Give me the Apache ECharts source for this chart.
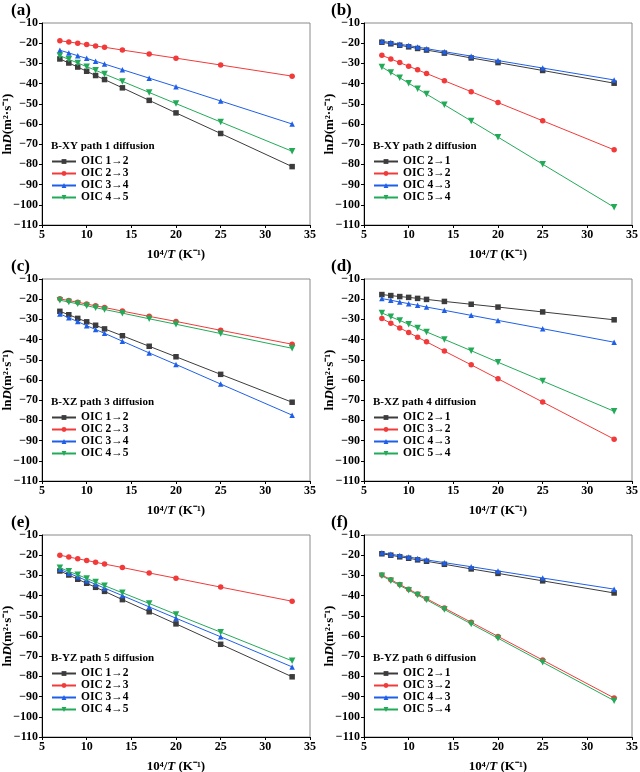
<!DOCTYPE html>
<html>
<head>
<meta charset="utf-8">
<script src="https://cdn.jsdelivr.net/npm/echarts@6/dist/echarts.min.js"></script>
<style>
  html, body { margin: 0; padding: 0; background: #fff; }
  #chart { width: 640px; height: 772px; }
</style>
</head>
<body>
<div id="chart"></div>
<script>
// 10^4/T 横坐标
var invT = [7, 8, 9, 10, 11, 12, 14, 17, 20, 25, 33];

// (a) B-XY path 1
var a12 = [-27.8, -29.8, -31.8, -33.9, -36.0, -38.0, -42.1, -48.3, -54.5, -64.7, -81.1];
var a23 = [-18.8, -19.4, -20.0, -20.7, -21.4, -22.0, -23.4, -25.4, -27.4, -30.8, -36.3];
var a34 = [-23.5, -24.8, -26.2, -27.5, -28.9, -30.3, -33.1, -37.3, -41.5, -48.6, -60.0];
var a45 = [-26.2, -28.0, -29.8, -31.6, -33.4, -35.3, -38.9, -44.4, -49.9, -59.0, -73.5];
// (b) B-XY path 2
var b21 = [-19.5, -20.3, -21.0, -21.8, -22.6, -23.4, -24.9, -27.3, -29.6, -33.5, -39.8];
var b32 = [-26.0, -27.8, -29.6, -31.4, -33.2, -35.0, -38.6, -44.0, -49.4, -58.4, -72.8];
var b43 = [-19.0, -19.7, -20.5, -21.2, -21.9, -22.7, -24.2, -26.4, -28.6, -32.3, -38.2];
var b54 = [-31.8, -34.5, -37.1, -39.8, -42.5, -45.2, -50.5, -58.5, -66.5, -79.9, -101.2];
// (c) B-XZ path 3
var c12 = [-26.0, -27.7, -29.5, -31.2, -32.9, -34.7, -38.1, -43.3, -48.5, -57.2, -71.0];
var c23 = [-19.8, -20.7, -21.5, -22.4, -23.3, -24.1, -25.9, -28.5, -31.0, -35.4, -42.3];
var c34 = [-27.3, -29.2, -31.1, -33.1, -35.0, -36.9, -40.8, -46.6, -52.3, -62.0, -77.4];
var c45 = [-20.5, -21.4, -22.3, -23.2, -24.2, -25.1, -26.9, -29.7, -32.4, -37.0, -44.3];
// (d) B-XZ path 4
var d21 = [-17.7, -18.2, -18.7, -19.1, -19.6, -20.1, -21.1, -22.5, -23.9, -26.3, -30.2];
var d32 = [-29.6, -31.9, -34.2, -36.5, -38.8, -41.1, -45.7, -52.5, -59.4, -70.9, -89.3];
var d43 = [-19.7, -20.5, -21.4, -22.2, -23.0, -23.9, -25.5, -28.0, -30.5, -34.6, -41.3];
var d54 = [-26.8, -28.7, -30.5, -32.4, -34.3, -36.2, -39.9, -45.5, -51.2, -60.5, -75.5];
// (e) B-YZ path 5
var e12 = [-27.8, -29.8, -31.9, -33.9, -35.9, -37.9, -42.0, -48.0, -54.0, -64.1, -80.2];
var e23 = [-20.0, -20.9, -21.8, -22.6, -23.5, -24.4, -26.1, -28.8, -31.4, -35.8, -42.8];
var e34 = [-27.0, -28.9, -30.7, -32.6, -34.4, -36.3, -40.0, -45.6, -51.2, -60.4, -75.3];
var e45 = [-26.2, -28.0, -29.7, -31.5, -33.3, -35.1, -38.6, -43.9, -49.3, -58.1, -72.3];
// (f) B-YZ path 6
var f21 = [-19.3, -20.0, -20.8, -21.5, -22.3, -23.0, -24.5, -26.8, -29.0, -32.7, -38.7];
var f32 = [-29.8, -32.1, -34.5, -36.8, -39.2, -41.5, -46.2, -53.2, -60.2, -71.9, -90.7];
var f43 = [-18.8, -19.5, -20.2, -20.9, -21.6, -22.3, -23.7, -25.7, -27.8, -31.3, -36.8];
var f54 = [-30.2, -32.6, -35.0, -37.3, -39.7, -42.1, -46.9, -54.0, -61.1, -73.0, -92.0];

var panelLabels = ["(a)", "(b)", "(c)", "(d)", "(e)", "(f)"];
var legendTitles = [
  "B-XY path 1 diffusion", "B-XY path 2 diffusion",
  "B-XZ path 3 diffusion", "B-XZ path 4 diffusion",
  "B-YZ path 5 diffusion", "B-YZ path 6 diffusion"
];
var fwdNames = ["OIC 1\u21922", "OIC 2\u21923", "OIC 3\u21924", "OIC 4\u21925"];
var revNames = ["OIC 2\u21921", "OIC 3\u21922", "OIC 4\u21923", "OIC 5\u21924"];
var panelData = [
  [a12, a23, a34, a45],
  [b21, b32, b43, b54],
  [c12, c23, c34, c45],
  [d21, d32, d43, d54],
  [e12, e23, e34, e45],
  [f21, f32, f43, f54]
];

var colors = ["#3c3c3c", "#f23a3a", "#1f5fe8", "#23aa58"];
var symbols = ["rect", "circle", "triangle", "path://M0,0 L10,0 L5,9 Z"];
var FONT = "Liberation Serif";

function minusFmt(v) {
  return String(v).replace("-", "\u2212");
}

function buildOption() {
  var grids = [], xAxes = [], yAxes = [], series = [], legends = [], titles = [];
  var richName = {
    n: { fontFamily: FONT, fontWeight: "bold", fontSize: 13, color: "#000" },
    i: { fontFamily: FONT, fontWeight: "bold", fontStyle: "italic", fontSize: 13, color: "#000" }
  };

  for (var p = 0; p < 6; p++) {
    var col = p % 2, row = Math.floor(p / 2);
    var gLeft = col === 0 ? 42 : 364;
    var gTop = [23, 279, 535][row];
    var rowOff = [0, 256, 512][row];
    var names = col === 0 ? fwdNames : revNames;

    grids.push({
      left: gLeft, top: gTop, width: 268, height: 202,
      outerBoundsMode: "none", containLabel: false,
      show: true, borderColor: "#8a8a8a", borderWidth: 1
    });

    xAxes.push({
      gridIndex: p, type: "value", min: 5, max: 35, interval: 5,
      name: "{n|10\u2074/}{i|T}{n| (K\u207B\u00B9)}",
      nameLocation: "middle", nameGap: 23, nameMoveOverlap: false,
      nameTextStyle: { rich: richName },
      axisLine: { lineStyle: { color: "#000", width: 1 } },
      axisTick: { inside: false, length: 3, lineStyle: { color: "#000" } },
      axisLabel: { fontFamily: FONT, fontWeight: "bold", fontSize: 12, color: "#000", margin: 4 },
      splitLine: { show: false }
    });

    yAxes.push({
      gridIndex: p, type: "value", min: -110, max: -10, interval: 10,
      name: "{n|ln}{i|D}{n|(m\u00B2\u00B7s\u207B\u00B9)}",
      nameLocation: "middle", nameGap: 28, nameRotate: 90, nameMoveOverlap: false,
      nameTextStyle: { rich: richName },
      axisLine: { show: true, lineStyle: { color: "#000", width: 1 } },
      axisTick: { show: true, inside: false, length: 3, lineStyle: { color: "#000" } },
      axisLabel: {
        fontFamily: FONT, fontWeight: "bold", fontSize: 12, color: "#000", margin: 4,
        formatter: minusFmt
      },
      splitLine: { show: false }
    });

    for (var s = 0; s < 4; s++) {
      var vals = panelData[p][s];
      series.push({
        name: names[s],
        type: "line",
        xAxisIndex: p, yAxisIndex: p,
        data: invT.map(function (x, i) { return [x, vals[i]]; }),
        symbol: symbols[s],
        symbolSize: s === 3 ? 6.5 : 5.5,
        lineStyle: { width: 1, color: colors[s] },
        itemStyle: { color: colors[s] },
        z: 2 + s
      });
    }

    legends.push({
      data: names,
      orient: "vertical",
      left: gLeft + 9, top: rowOff + 155.5,
      itemWidth: 24, itemHeight: 6, itemGap: 0,
      selectedMode: false,
      padding: 0,
      textStyle: { fontFamily: FONT, fontWeight: "bold", fontSize: 11.5, color: "#000" }
    });

    titles.push({
      text: panelLabels[p],
      left: col === 0 ? 11 : 331, top: rowOff + 2,
      padding: 0,
      textStyle: { fontFamily: FONT, fontWeight: "bold", fontSize: 17, color: "#000" }
    });
    titles.push({
      text: legendTitles[p],
      left: gLeft + 9, top: rowOff + 141,
      padding: 0,
      textStyle: { fontFamily: FONT, fontWeight: "bold", fontSize: 11, color: "#000" }
    });
  }

  return {
    animation: false,
    title: titles,
    legend: legends,
    grid: grids,
    xAxis: xAxes,
    yAxis: yAxes,
    series: series
  };
}

var chart = echarts.init(document.getElementById("chart"));
chart.setOption(buildOption());
</script>
</body>
</html>
